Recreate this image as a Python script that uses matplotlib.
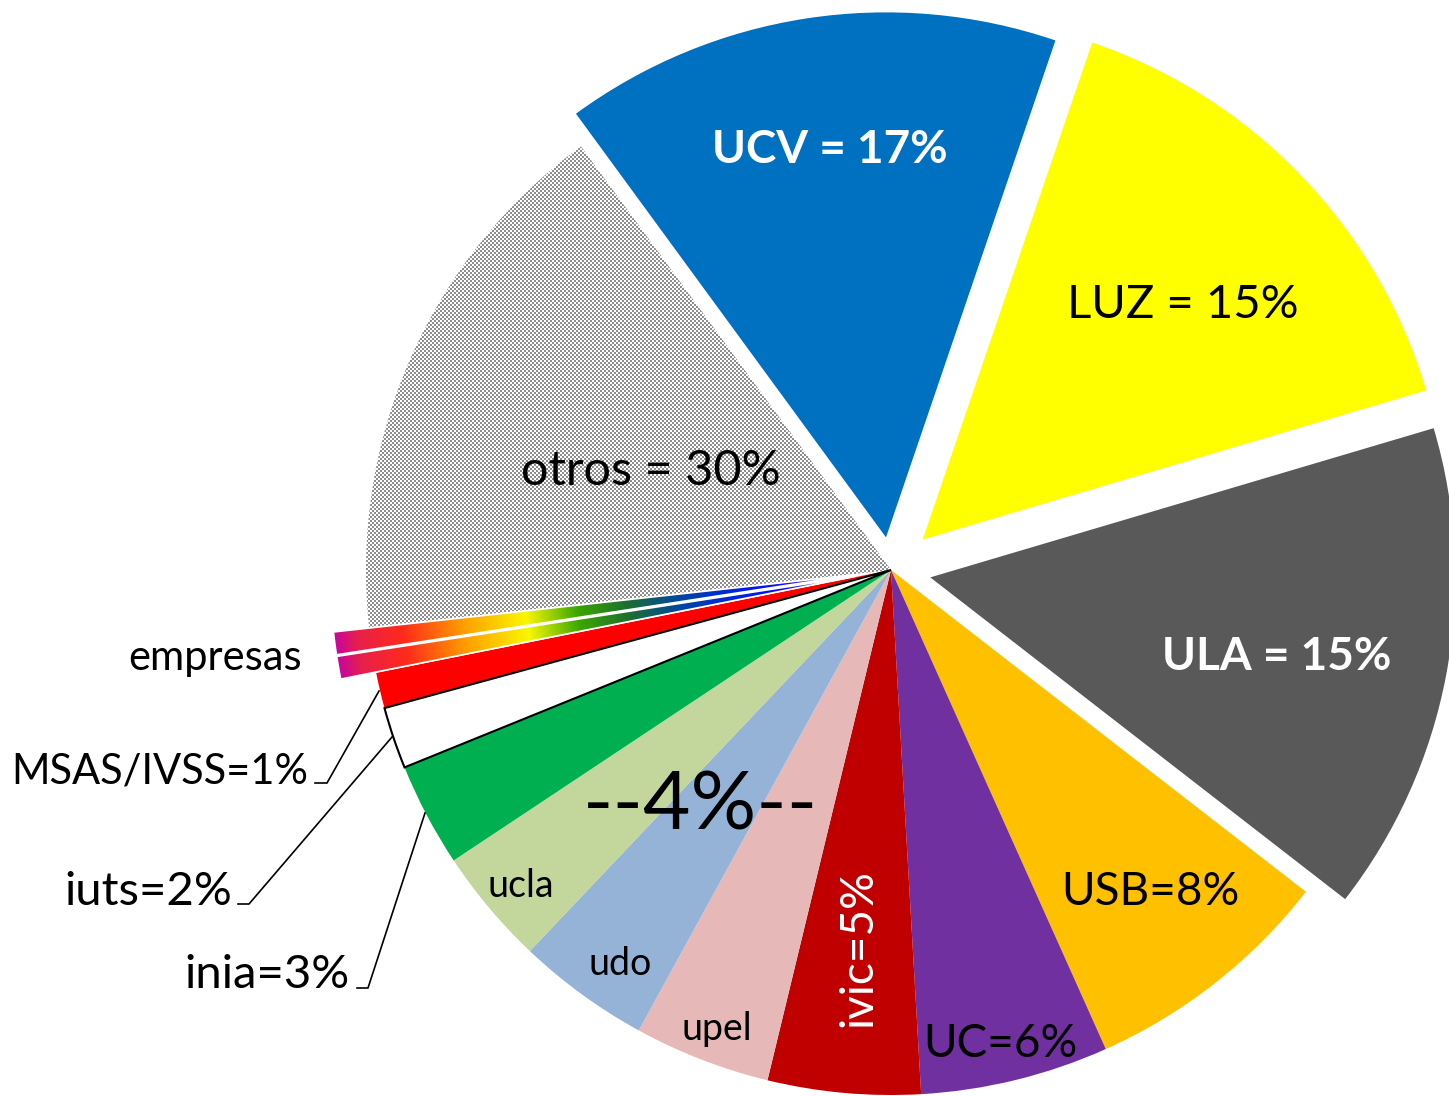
import numpy as np
import matplotlib
matplotlib.use("Agg")
import matplotlib.pyplot as plt
from matplotlib.colors import LinearSegmentedColormap, ListedColormap

W, H = 1449, 1096
CENTER = (891, 570)
RADIUS = 525

# share of the circle, clockwise from UCV
categories = ["UCV", "LUZ", "ULA", "USB", "UC", "ivic", "upel", "udo",
              "ucla", "inia", "iuts", "MSAS/IVSS", "empresas_a", "empresas_b", "otros"]
values = [15.3, 15.2, 15.1, 7.8, 5.8, 4.7, 4.2, 4.1,
          3.6, 3.2, 1.9, 1.1, 0.7, 0.7, 16.7]
labels = ["UCV = 17%", "LUZ = 15%", "ULA = 15%", "USB=8%", "UC=6%", "ivic=5%",
          "upel", "udo", "ucla", "inia=3%", "iuts=2%", "MSAS/IVSS=1%",
          "empresas", "", "otros = 30%"]

colors = ["#0070C0", "#FFFF00", "#595959", "#FFC000", "#7030A0", "#C00000",
          "#E6B9B8", "#95B3D7", "#C3D69B", "#00B050", "#FFFFFF", "#FF0000",
          "#FFFFFF", "#FFFFFF", "#FFFFFF"]
explode = [33, 44, 40, 0, 0, 0, 0, 0, 0, 0, 0, 0, 36, 36, 0]

plt.rcParams["font.family"] = ["Lato", "DejaVu Sans"]

fig = plt.figure(figsize=(W / 100, H / 100), dpi=100)
ax = fig.add_axes([0, 0, 1, 1])

# y axis is flipped below, so counterclock in data = clockwise on screen
wedges, _ = ax.pie(values, colors=colors, explode=explode, startangle=-126.2,
                   counterclock=True, radius=RADIUS, center=CENTER,
                   wedgeprops=dict(linewidth=0))
ax.set_xlim(0, W)
ax.set_ylim(H, 0)
ax.set_aspect("equal")
ax.axis("off")

wedges[10].set_edgecolor("black")
wedges[10].set_linewidth(1.5)
wedges[10].set_zorder(2)

yy, xx = np.mgrid[0:H, 0:W]

# checker fill for otros
checker = ((xx // 2 + yy // 2) % 2).astype(float)
img = ax.imshow(checker, cmap=ListedColormap(["white", "#8E8E8E"]),
                extent=(0, W, H, 0), interpolation="nearest", zorder=1.5)
img.set_clip_path(wedges[14])

# rainbow fill for empresas
stops = [(0.00, "#c090e8"), (0.08, "#6020c8"), (0.22, "#0010ff"),
         (0.38, "#0048a0"), (0.47, "#1e6e30"), (0.56, "#3ca800"),
         (0.65, "#f8f800"), (0.76, "#ffa000"), (0.87, "#ff2a1a"),
         (0.95, "#e8204a"), (1.00, "#c000b0")]
rainbow = LinearSegmentedColormap.from_list("rainbow_fill", stops)
dist = np.hypot(xx - CENTER[0], yy - CENTER[1]) / (RADIUS * 1.08)
for i in (12, 13):
    g = ax.imshow(np.clip(dist, 0, 1), cmap=rainbow, vmin=0, vmax=1,
                  extent=(0, W, H, 0), zorder=1.5)
    g.set_clip_path(wedges[i])
    wedges[i].set_facecolor("none")
    wedges[i].set_edgecolor("white")
    wedges[i].set_linewidth(1.2)
    wedges[i].set_zorder(2)

# labels inside the pie
ax.text(830, 163, labels[0], color="white", fontsize=33, fontweight="bold", ha="center", va="baseline")
ax.text(1183, 318, labels[1], color="black", fontsize=34, ha="center", va="baseline")
ax.text(1277, 670, labels[2], color="white", fontsize=33, fontweight="bold", ha="center", va="baseline")
ax.text(1150, 905, labels[3], color="black", fontsize=33, ha="center", va="baseline")
ax.text(1000, 1057, labels[4], color="black", fontsize=33, ha="center", va="baseline")
ax.text(858, 948, labels[5], color="white", fontsize=33, rotation=90, ha="center", va="center")
ax.text(717, 1040, labels[6], color="black", fontsize=27, ha="center", va="baseline")
ax.text(620, 975, labels[7], color="black", fontsize=27, ha="center", va="baseline")
ax.text(521, 897, labels[8], color="black", fontsize=27, ha="center", va="baseline")
ax.text(701, 830, "--4%--", color="black", fontsize=59, ha="center", va="baseline")
ax.text(651, 485, labels[14], color="black", fontsize=35, ha="center", va="baseline")

# labels outside with leader lines
ax.text(302, 670, labels[12], color="black", fontsize=30, ha="right", va="baseline")
ax.text(308, 783, labels[11], color="black", fontsize=30, ha="right", va="baseline")
ax.text(232, 905, labels[10], color="black", fontsize=34, ha="right", va="baseline")
ax.text(350, 988, labels[9], color="black", fontsize=34, ha="right", va="baseline")

ax.plot([315, 327, 379], [783, 783, 691], color="black", lw=1.2)
ax.plot([238, 249, 392], [904, 904, 737], color="black", lw=1.2)
ax.plot([357, 368, 425], [988, 988, 813], color="black", lw=1.2)

fig.savefig("out.png", dpi=100)
